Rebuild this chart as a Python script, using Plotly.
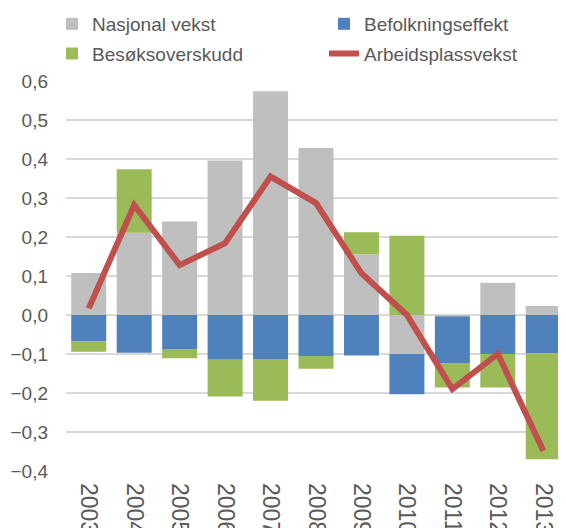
import plotly.graph_objects as go

years = ["2003", "2004", "2005", "2006", "2007", "2008", "2009", "2010", "2011", "2012", "2013"]
nasjonal = [0.108, 0.211, 0.240, 0.396, 0.574, 0.428, 0.156, -0.100, -0.004, 0.083, 0.023]
befolkning = [-0.067, -0.097, -0.087, -0.115, -0.113, -0.105, -0.104, -0.103, -0.119, -0.100, -0.098]
besok = [-0.027, 0.163, -0.024, -0.094, -0.107, -0.033, 0.056, 0.203, -0.063, -0.086, -0.272]
arbeid = [0.017, 0.282, 0.128, 0.184, 0.355, 0.287, 0.107, 0.000, -0.190, -0.100, -0.348]

FONT = "Liberation Sans, Arial, sans-serif"
TXT = "#595959"

fig = go.Figure()
fig.add_bar(x=years, y=nasjonal, name="Nasjonal vekst", marker_color="#BFBFBF",
            marker_line_width=0, legend="legend", legendgroup="a")
fig.add_bar(x=years, y=befolkning, name="Befolkningseffekt", marker_color="#4F81BD",
            marker_line_width=0, legend="legend2", legendgroup="b")
fig.add_bar(x=years, y=besok, name="Besøksoverskudd", marker_color="#9BBB59",
            marker_line_width=0, legend="legend", legendgroup="c")
fig.add_scatter(x=years, y=arbeid, name="Arbeidsplassvekst", mode="lines",
                line=dict(color="#C0504D", width=6), legend="legend2", legendgroup="d")

leg_common = dict(orientation="v", xref="container", yref="paper",
                  xanchor="left", yanchor="top", y=1.195,
                  font=dict(family=FONT, size=19, color=TXT),
                  tracegroupgap=2, bgcolor="rgba(0,0,0,0)", borderwidth=0)

fig.update_layout(
    width=558, height=520,
    barmode="relative", bargap=0.23,
    separators=", ",
    paper_bgcolor="white", plot_bgcolor="white",
    margin=dict(l=58, r=0, t=73, b=57, autoexpand=False),
    font=dict(family=FONT, size=19, color=TXT),
    legend=dict(x=44 / 558, **leg_common),
    legend2=dict(x=316 / 558, **leg_common),
    xaxis=dict(tickangle=90, showgrid=False, showline=False, ticks="",
               tickfont=dict(size=23, color=TXT), ticklabelstandoff=11),
    yaxis=dict(range=[-0.4, 0.6], dtick=0.1, tickformat=".1f",
               showgrid=True, gridcolor="#D9D9D9", gridwidth=1.5,
               zeroline=False, showline=False, ticks="",
               tickfont=dict(size=19, color=TXT), ticklabelstandoff=17),
)

fig.write_html("out.html")
